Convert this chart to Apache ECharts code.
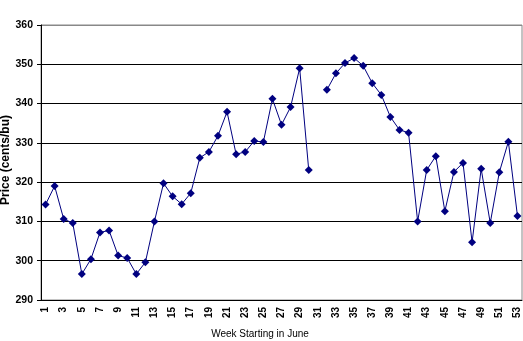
<!DOCTYPE html>
<html lang="en">
<head>
    <meta charset="UTF-8">
    <title>Weekly Price</title>
    <script src="https://cdn.jsdelivr.net/npm/echarts@6/dist/echarts.min.js"></script>
    <style>
        html, body { margin: 0; padding: 0; background: #fff; }
        #chart { width: 523px; height: 341px; }
    </style>
</head>
<body>
<div id="chart"></div>
<script>
    // weeks 1..53, week 31 has no quote
    var weeks = [];
    for (var i = 1; i <= 53; i++) weeks.push(String(i));

    var prices = [
        314.3, 319.0, 310.6, 309.6, 296.6, 300.4, 307.2, 307.7, 301.3, 300.7,
        296.6, 299.6, 310.0, 319.7, 316.4, 314.4, 317.2, 326.2, 327.7, 331.8,
        337.9, 327.1, 327.7, 330.5, 330.2, 341.2, 334.6, 339.1, 349.0, 323.1,
        null, 343.5, 347.7, 350.3, 351.6, 349.6, 345.2, 342.2, 336.6, 333.3,
        332.6, 310.0, 323.1, 326.6, 312.6, 322.6, 324.9, 304.7, 323.4, 309.6,
        322.5, 330.3, 311.4
    ];

    var yMin = 290, yMax = 360, yStep = 10;

    var font = '"Liberation Sans", Arial, sans-serif';
    var chart = echarts.init(document.getElementById('chart'));
    chart.setOption({
        animation: false,
        backgroundColor: '#fff',
        textStyle: { fontFamily: font },
        grid: {
            left: 41, right: 1, top: 25, bottom: 41,
            show: true, borderColor: '#888', borderWidth: 1, backgroundColor: '#fff'
        },
        xAxis: {
            type: 'category',
            data: weeks,
            boundaryGap: true,
            axisLine: { lineStyle: { color: '#000', width: 1 } },
            axisTick: { interval: 0, length: 4, lineStyle: { color: '#000' } },
            axisLabel: {
                interval: 1, rotate: 90, margin: 7,
                color: '#000', fontWeight: 'bold', fontSize: 10, fontFamily: font
            },
            splitLine: { show: false }
        },
        yAxis: {
            type: 'value',
            min: yMin, max: yMax, interval: yStep,
            axisLine: { show: true, lineStyle: { color: '#000', width: 1 } },
            axisTick: { show: true, length: 4, lineStyle: { color: '#000' } },
            axisLabel: {
                margin: 8, color: '#000', fontWeight: 'bold', fontSize: 10.5, fontFamily: font
            },
            splitLine: {
                show: true,
                lineStyle: {
                    color: ['#000', '#000', '#000', '#000', '#000', '#000', '#000', '#888'],
                    width: 1
                }
            }
        },
        graphic: [
            {
                type: 'text', x: 6, y: 160, rotation: Math.PI / 2,
                style: {
                    text: 'Price (cents/bu)', fill: '#000',
                    font: 'bold 12px ' + font,
                    align: 'center', verticalAlign: 'middle',
                    textAlign: 'center', textVerticalAlign: 'middle'
                }
            },
            {
                type: 'text', x: 260, y: 334,
                style: {
                    text: 'Week Starting in June', fill: '#000',
                    font: '10px ' + font,
                    align: 'center', verticalAlign: 'middle',
                    textAlign: 'center', textVerticalAlign: 'middle'
                }
            }
        ],
        series: [{
            type: 'line',
            data: prices,
            connectNulls: false,
            symbol: 'diamond',
            symbolSize: 8,
            showAllSymbol: true,
            lineStyle: { color: '#000080', width: 1 },
            itemStyle: { color: '#000080' }
        }]
    });
</script>
</body>
</html>
